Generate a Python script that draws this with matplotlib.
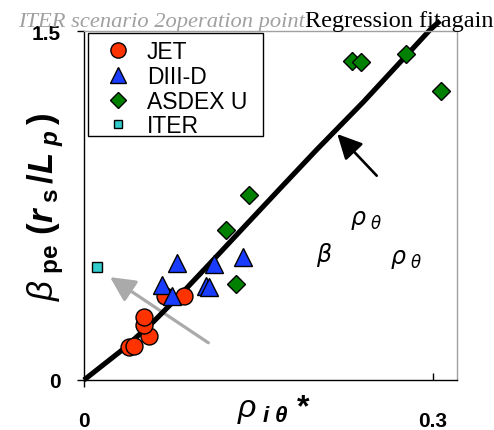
import matplotlib
matplotlib.use('Agg')
import matplotlib.pyplot as plt
from matplotlib.patches import Rectangle

# ---- data ----
jet_x = [0.0383, 0.0426, 0.0555, 0.0512, 0.0516, 0.0696, 0.0860]
jet_y = [0.140, 0.148, 0.191, 0.236, 0.269, 0.359, 0.363]
d3d_x = [0.0802, 0.0668, 0.0759, 0.1120, 0.1370, 0.1046, 0.1079]
d3d_y = [0.503, 0.410, 0.362, 0.498, 0.527, 0.405, 0.400]
aug_x = [0.1421, 0.1221, 0.1304, 0.2302, 0.2379, 0.2766, 0.3067]
aug_y = [0.795, 0.646, 0.413, 1.370, 1.365, 1.401, 1.241]
iter_x = [0.0115]
iter_y = [0.487]
fit_x = [0.0, 0.0338, 0.0596, 0.0883, 0.1141, 0.1427, 0.1714, 0.2001,
         0.2402, 0.2689, 0.2975, 0.3061]
fit_y = [0.0, 0.133, 0.250, 0.395, 0.532, 0.685, 0.838, 0.990,
         1.195, 1.350, 1.505, 1.544]
labels = ['JET', 'DIII-D', 'ASDEX U', 'ITER']
xticks_major = [0.0]
xticks_minor = [0.3]
yticks = [0.0, 1.5]
ytick_labels = ['0', '1.5']

plt.rcParams['font.family'] = ['Liberation Sans', 'DejaVu Sans']
plt.rcParams['mathtext.fontset'] = 'custom'
plt.rcParams['mathtext.rm'] = 'Liberation Sans'
plt.rcParams['mathtext.it'] = 'Liberation Sans:italic'
plt.rcParams['mathtext.bf'] = 'Liberation Sans:bold'
plt.rcParams['mathtext.bfit'] = 'Liberation Sans:bold:italic'

W, H = 494, 431
fig = plt.figure(figsize=(W / 100, H / 100), dpi=100)
ax = fig.add_axes([84 / W, 1 - 381 / H, (457 - 84) / W, (381 - 32) / H])
ax.set_xlim(0, 0.3207)
ax.set_ylim(0, 1.5)

# grey arrow (ITER operation point)
ax.annotate('', xy=(0.0224, 0.442), xytext=(0.1069, 0.160),
            arrowprops=dict(arrowstyle='-|>,head_length=1.0,head_width=0.5',
                            color='#aaaaaa', lw=2.3, mutation_scale=15,
                            shrinkA=0, shrinkB=0), zorder=1.5)
# regression line
ax.plot(fit_x, fit_y, color='black', lw=3.7, zorder=2, clip_on=False,
        solid_capstyle='butt', solid_joinstyle='round')
# black arrow (regression fit)
ax.annotate('', xy=(0.2178, 1.057), xytext=(0.2517, 0.878),
            arrowprops=dict(arrowstyle='-|>,head_length=1.0,head_width=0.5',
                            color='black', lw=1.9, mutation_scale=15,
                            shrinkA=0, shrinkB=0), zorder=2.5)

ax.plot(jet_x, jet_y, 'o', ms=12.2, mfc='#ff3300', mec='black', mew=1.0,
        ls='none', zorder=3, label=labels[0])
ax.plot(d3d_x, d3d_y, '^', ms=12.5, mfc='#1a3cff', mec='black', mew=1.0,
        ls='none', zorder=3.1, label=labels[1])
ax.plot(aug_x, aug_y, 'D', ms=9.0, mfc='#008000', mec='black', mew=1.0,
        ls='none', zorder=3.2, label=labels[2], clip_on=False)
ax.plot(iter_x, iter_y, 's', ms=6.5, mfc='#33cccc', mec='black', mew=1.0,
        ls='none', zorder=3.3, label=labels[3])

# greek annotations
gk = dict(color='black', fontsize=17, math_fontfamily='dejavusans',
          ha='center', va='center')
ax.text((366 - 84) / 1163, (381 - 220) / 232.7, r'$\rho_{\ \theta}$', **gk)
ax.text((324 - 84) / 1163, (381 - 255) / 232.7, r'$\beta$', **gk)
ax.text((406 - 84) / 1163, (381 - 259) / 232.7, r'$\rho_{\ \theta}$', **gk)

# spines
for s in ['top', 'right']:
    ax.spines[s].set_color('#a0a0a0')
    ax.spines[s].set_linewidth(1.0)
for s in ['left', 'bottom']:
    ax.spines[s].set_color('black')
    ax.spines[s].set_linewidth(1.0)

# ticks
ax.set_xticks(xticks_major, labels=['0'])
ax.set_xticks(xticks_minor, labels=['0.3'], minor=True)
ax.set_yticks(yticks, labels=ytick_labels)
ax.tick_params(axis='x', which='major', direction='out', length=5, width=1,
               pad=17, labelsize=15)
ax.tick_params(axis='x', which='minor', direction='in', length=5, width=1,
               pad=22, labelsize=15)
ax.tick_params(axis='y', which='major', direction='out', length=5, width=1,
               pad=12, labelsize=15)
for lab in ax.get_xticklabels(which='both') + ax.get_yticklabels():
    lab.set_fontweight('bold')

# axis labels
fig.text(274 / W, 1 - 410 / H, r'$\rho_{\ \mathbfit{i\ \theta}}\ \mathbf{*}$',
         fontsize=23, ha='center', va='center')
fig.text(46 / W, 1 - 207 / H,
         r'$\beta_{\ \mathbf{pe}}\ \mathbf{(}\mathbfit{r}_{\ \mathbf{s}}\,\mathbf{/}\mathbfit{L}_{\ \mathbfit{p}}\,\mathbf{)}$',
         fontsize=25, rotation=90, ha='center', va='center')

# legend (frame drawn as a rectangle to match the reference box)
ax.add_patch(Rectangle((88 / W, 1 - 137 / H), (263 - 88) / W,
                       (137 - 34) / H, transform=fig.transFigure,
                       fill=True, facecolor='white', edgecolor='black',
                       lw=1.0, zorder=4, clip_on=False))
leg = ax.legend(loc='upper left', bbox_to_anchor=(88 / W, 1 - 34 / H),
                bbox_transform=fig.transFigure, fontsize=16.5, numpoints=1,
                frameon=False, borderpad=0.3, labelspacing=0.08,
                handlelength=2.0, handletextpad=0.26, borderaxespad=0,
                markerscale=0.9)
leg.set_zorder(5)

# header texts
fig.text(18 / W, 1 - 27 / H, 'ITER scenario 2operation point',
         color='#a0a0a0', style='italic', family='Liberation Serif',
         fontsize=16.2, va='baseline', ha='left')
fig.text(305 / W, 1 - 27 / H, 'Regression fitagainst',
         color='black', family='Liberation Serif',
         fontsize=17.5, va='baseline', ha='left')

fig.savefig('out.png', dpi=100)
